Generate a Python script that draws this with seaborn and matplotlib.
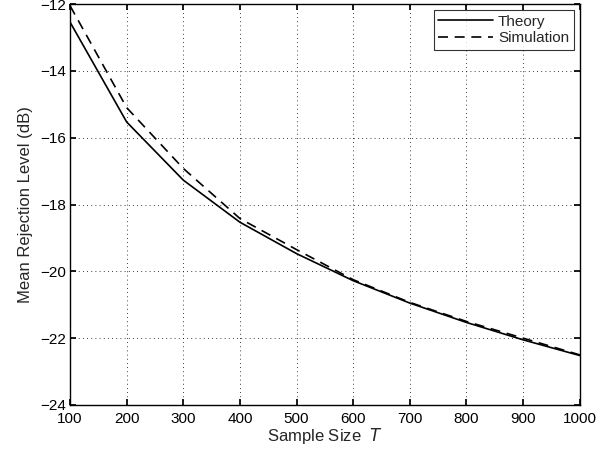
import matplotlib
matplotlib.use("Agg")
import matplotlib.pyplot as plt
import seaborn as sns
import pandas as pd

sample_size = [100, 200, 300, 400, 500, 600, 700, 800, 900, 1000]
theory = [-12.54, -15.53, -17.27, -18.53, -19.47, -20.28, -20.95, -21.53, -22.05, -22.52]
simulation = [-12.05, -15.1, -16.92, -18.42, -19.35, -20.25, -20.93, -21.5, -22.0, -22.5]

sns.set_theme(style="white")
plt.rcParams['font.family'] = ['Liberation Sans', 'DejaVu Sans']

df = pd.DataFrame({
    "T": sample_size * 2,
    "val": theory + simulation,
    "series": ["Theory"] * len(theory) + ["Simulation"] * len(simulation),
})

fig = plt.figure(figsize=(6.09, 4.53), dpi=100)
ax = fig.add_axes([0.115, 0.106, 0.837, 0.885])
sns.lineplot(data=df, x="T", y="val", hue="series", style="series",
             palette={"Theory": "black", "Simulation": "black"},
             dashes={"Theory": "", "Simulation": (6, 4)},
             linewidth=1.2, ax=ax)

ax.set_xlim(100, 1000)
ax.set_ylim(-24, -12)
ax.set_xticks(range(100, 1001, 100))
ax.set_yticks(range(-24, -11, 2))
ax.grid(True, color="black", linestyle=(0, (1, 4)), linewidth=0.6)
ax.tick_params(direction="in", length=4, labelsize=11, colors="black",
               top=True, right=True, bottom=True, left=True)
ax.tick_params(axis="x", pad=5)
ax.tick_params(axis="y", pad=3)
for s in ax.spines.values():
    s.set_color("black")
    s.set_linewidth(1.0)
ax.set_xlabel("Sample Size  $\\mathit{T}$", fontsize=12, labelpad=0)
ax.set_ylabel("Mean Rejection Level (dB)", fontsize=12, labelpad=5)
leg = ax.legend(loc="upper right", frameon=True, fontsize=11, fancybox=False,
                edgecolor="black", handlelength=3.6, borderaxespad=0.4,
                borderpad=0.3, labelspacing=0.15, handletextpad=0.3)
leg.get_frame().set_linewidth(0.8)
fig.savefig("out.png", dpi=100)
